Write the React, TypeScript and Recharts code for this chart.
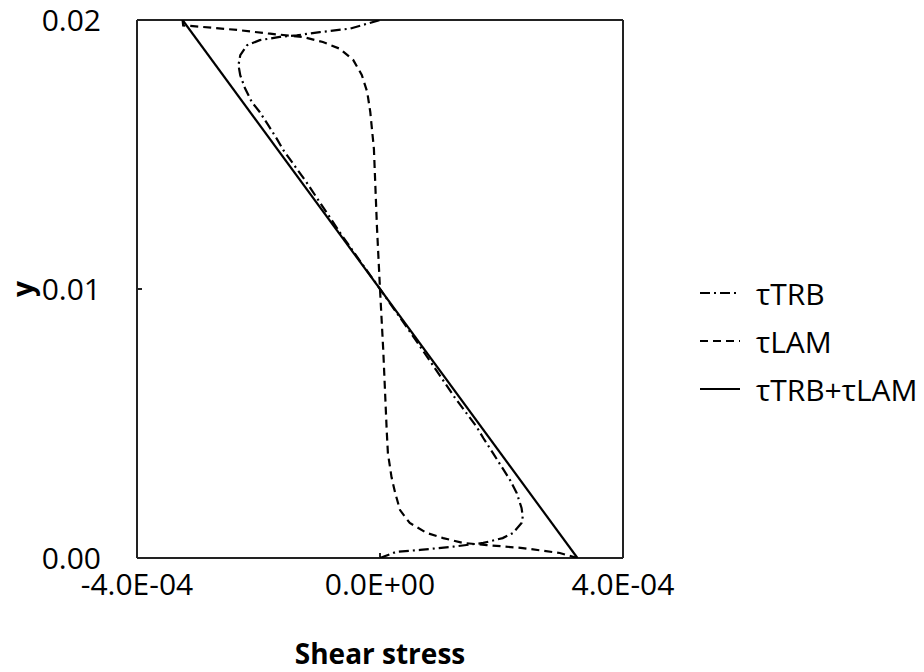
import React from 'react';
import { ScatterChart, Scatter, XAxis, YAxis, ReferenceLine, Legend } from 'recharts';

// wall-normal position y and shear stress components
const yTRB = [0, 0.00023, 0.0003, 0.00042, 0.00056, 0.00074, 0.00093, 0.0013, 0.00154, 0.00186, 0.00242, 0.0029, 0.0034, 0.0039, 0.00446, 0.00488, 0.006, 0.008, 0.01, 0.012, 0.014, 0.01516, 0.01559, 0.01609, 0.01658, 0.01695, 0.01745, 0.01794, 0.01832, 0.01869, 0.01906, 0.01925, 0.01937, 0.01943, 0.01955, 0.01968, 0.02];
const tauTRB = [0, 0.27e-4, 0.66e-4, 1.2e-4, 1.7e-4, 2.02e-4, 2.19e-4, 2.33e-4, 2.35e-4, 2.33e-4, 2.25e-4, 2.14e-4, 2.0e-4, 1.86e-4, 1.7e-4, 1.59e-4, 1.22e-4, 0.62e-4, 0, -0.63e-4, -1.22e-4, -1.59e-4, -1.7e-4, -1.84e-4, -1.98e-4, -2.11e-4, -2.22e-4, -2.3e-4, -2.33e-4, -2.3e-4, -2.19e-4, -1.98e-4, -1.65e-4, -1.37e-4, -0.99e-4, -0.49e-4, 0];

const yLAM = [0, 0.000186, 0.00037, 0.00048, 0.00056, 0.00074, 0.00093, 0.0013, 0.00178, 0.00242, 0.003, 0.0039, 0.00476, 0.0077, 0.01, 0.0123, 0.0152, 0.01658, 0.01732, 0.01796, 0.01851, 0.01893, 0.01918, 0.01937, 0.01949, 0.01963, 0.01974, 0.0198, 0.02];
const tauLAM = [3.25e-4, 2.96e-4, 2.35e-4, 1.76e-4, 1.37e-4, 1.04e-4, 0.77e-4, 0.49e-4, 0.33e-4, 0.25e-4, 0.19e-4, 0.13e-4, 0.11e-4, 0.054e-4, 0, -0.05e-4, -0.1e-4, -0.16e-4, -0.21e-4, -0.3e-4, -0.44e-4, -0.66e-4, -0.94e-4, -1.27e-4, -1.81e-4, -2.35e-4, -2.91e-4, -3.24e-4, -3.25e-4];

const yTotal = [0, 0.02];
const tauTotal = [3.25e-4, -3.25e-4];

const xTicks = [-4e-4, 0, 4e-4];
const yTicks = [0, 0.01, 0.02];

const toPoints = (ys: number[], xs: number[]) => ys.map((y, i) => ({ x: xs[i], y }));

const trbData = toPoints(yTRB, tauTRB);
const lamData = toPoints(yLAM, tauLAM);
const totalData = toPoints(yTotal, tauTotal);

const fmtSci = (v: number) => {
  const [m, e] = v.toExponential(1).split('e');
  return `${m}E${e[0]}${e.slice(1).padStart(2, '0')}`;
};

const FONT = "'Open Sans', sans-serif";
const AXIS = '#222';

const series = [
  { name: 'τTRB', dash: '10 4 2 4' },
  { name: 'τLAM', dash: '8 5' },
  { name: 'τTRB+τLAM', dash: undefined },
];

const LegendBox = () => (
  <div style={{ fontFamily: FONT, fontSize: 30, color: '#000' }}>
    {series.map((s) => (
      <div key={s.name} style={{ display: 'flex', alignItems: 'center', height: 48 }}>
        <svg width={40} height={10} style={{ marginRight: 16 }}>
          <line x1={0} y1={5} x2={40} y2={5} stroke="#000" strokeWidth={2.2} strokeDasharray={s.dash} />
        </svg>
        <span>{s.name}</span>
      </div>
    ))}
  </div>
);

const noDot = () => <g />;

export default function App() {
  return (
    <div style={{ position: 'absolute', left: 0, top: 0, fontFamily: FONT }}>
      <ScatterChart width={924} height={672} margin={{ top: 20, right: 301, bottom: 0, left: 0 }}>
        <XAxis
          type="number"
          dataKey="x"
          domain={[-4e-4, 4e-4]}
          ticks={xTicks}
          tickFormatter={fmtSci}
          height={114}
          tickSize={-5}
          tickMargin={21}
          stroke={AXIS}
          strokeWidth={2}
          tick={{ fontSize: 30, fill: '#000', fontFamily: FONT }}
          allowDataOverflow
          label={{ value: 'Shear stress', position: 'insideBottom', offset: 8, fontSize: 28, fontWeight: 700, fill: '#000', fontFamily: FONT }}
        />
        <YAxis
          type="number"
          dataKey="y"
          domain={[0, 0.02]}
          ticks={yTicks}
          tickFormatter={(v: number) => v.toFixed(2)}
          width={137}
          tickSize={-5}
          tickMargin={41}
          stroke={AXIS}
          strokeWidth={2}
          tick={{ fontSize: 30, fill: '#000', fontFamily: FONT }}
          allowDataOverflow
          label={{ value: 'y', angle: -90, position: 'center', dx: -45, fontSize: 28, fontWeight: 700, fill: '#000', fontFamily: FONT }}
        />
        <ReferenceLine x={4e-4} stroke={AXIS} strokeWidth={2} />
        <ReferenceLine y={0.02} stroke={AXIS} strokeWidth={2} />
        <Legend
          layout="vertical"
          align="center"
          verticalAlign="middle"
          content={LegendBox}
          wrapperStyle={{ left: 700, top: 269, width: 224 }}
        />
        <Scatter name="τTRB" data={trbData} line={{ stroke: '#000', strokeWidth: 2.2, strokeDasharray: '10 4 2 4' }} lineType="joint" shape={noDot} isAnimationActive={false} />
        <Scatter name="τLAM" data={lamData} line={{ stroke: '#000', strokeWidth: 2.2, strokeDasharray: '8 5' }} lineType="joint" shape={noDot} isAnimationActive={false} />
        <Scatter name="τTRB+τLAM" data={totalData} line={{ stroke: '#000', strokeWidth: 2.2 }} lineType="joint" shape={noDot} isAnimationActive={false} />
      </ScatterChart>
    </div>
  );
}
